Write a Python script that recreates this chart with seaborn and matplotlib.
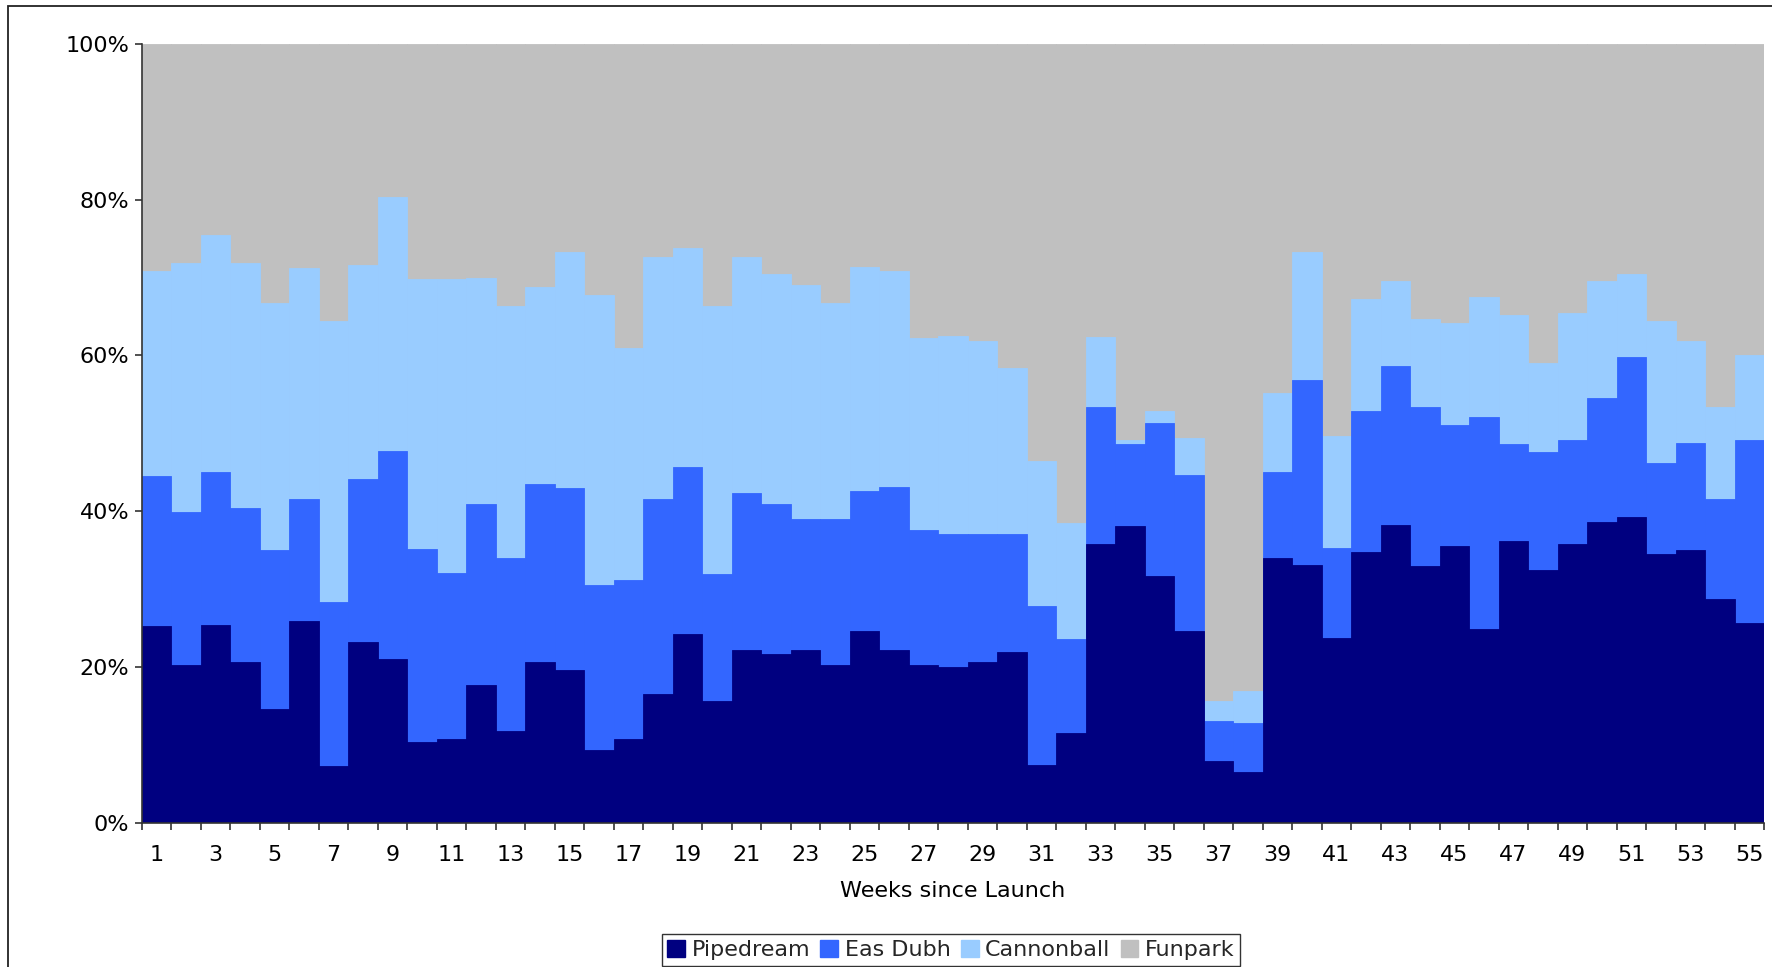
import numpy as np
import pandas as pd
import matplotlib
matplotlib.use("Agg")
import matplotlib.pyplot as plt
from matplotlib.patches import Rectangle, Patch
import seaborn as sns

# Weekly share of rides (%), weeks since launch
weeks = list(range(1, 56))
pipedream = [25.3, 20.3, 25.4, 20.7, 14.6, 25.9, 7.3, 23.2, 21.1, 10.4,
             10.8, 17.7, 11.8, 20.7, 19.7, 9.4, 10.8, 16.6, 24.2, 15.6,
             22.2, 21.7, 22.2, 20.3, 24.7, 22.2, 20.3, 20.0, 20.7, 22.0,
             7.4, 11.5, 35.8, 38.1, 31.7, 24.7, 7.9, 6.5, 34.0, 33.1,
             23.8, 34.8, 38.2, 33.0, 35.6, 24.9, 36.2, 32.5, 35.8, 38.6,
             39.3, 34.5, 35.0, 28.8, 25.7]
eas_dubh = [19.2, 19.6, 19.7, 19.7, 20.4, 15.7, 21.1, 20.9, 26.6, 24.8,
            21.3, 23.3, 22.2, 22.8, 23.3, 21.2, 20.4, 25.0, 21.5, 16.3,
            20.2, 19.3, 16.8, 18.7, 17.9, 20.9, 17.3, 17.1, 16.4, 15.1,
            20.5, 12.1, 17.6, 10.6, 19.6, 20.0, 5.2, 6.3, 11.1, 23.7,
            11.5, 18.1, 20.5, 20.4, 15.5, 27.2, 12.4, 15.1, 13.4, 16.0,
            20.5, 11.7, 13.8, 12.8, 23.5]
cannonball = [26.4, 32.0, 30.4, 31.5, 31.7, 29.6, 36.0, 27.5, 32.7, 34.6,
              37.7, 29.0, 32.3, 25.3, 30.3, 37.2, 29.8, 31.0, 28.1, 34.5,
              30.2, 29.4, 30.0, 27.7, 28.7, 27.8, 24.6, 25.4, 24.7, 21.3,
              18.6, 14.9, 9.0, 0.5, 1.6, 4.7, 2.5, 4.1, 10.1, 16.5,
              14.4, 14.3, 10.8, 11.3, 13.1, 15.4, 16.6, 11.4, 16.3, 14.9,
              10.7, 18.2, 13.0, 11.8, 10.8]
funpark = [29.1, 28.1, 24.5, 28.1, 33.3, 28.8, 35.6, 28.4, 19.6, 30.2,
           30.2, 30.0, 33.7, 31.2, 26.7, 32.2, 39.0, 27.4, 26.2, 33.6,
           27.4, 29.6, 31.0, 33.3, 28.7, 29.1, 37.8, 37.5, 38.2, 41.6,
           53.5, 61.5, 37.6, 50.8, 47.1, 50.6, 84.4, 83.1, 44.8, 26.7,
           50.3, 32.8, 30.5, 35.3, 35.8, 32.5, 34.8, 41.0, 34.5, 30.5,
           29.5, 35.6, 38.2, 46.6, 40.0]

series_names = ["Pipedream", "Eas Dubh", "Cannonball", "Funpark"]
series_colors = ["#000080", "#3366FF", "#99CCFF", "#C0C0C0"]

df = pd.DataFrame({"week": weeks, "Pipedream": pipedream, "Eas Dubh": eas_dubh,
                   "Cannonball": cannonball, "Funpark": funpark})
# normalise each week to 100% and build cumulative stack tops
shares = df[series_names].div(df[series_names].sum(axis=1), axis=0) * 100
tops = shares.cumsum(axis=1)
tops["week"] = df["week"]

sns.set_theme(style="white")
plt.rcParams["font.family"] = ["DejaVu Sans"]

fig = plt.figure(figsize=(17.72, 9.67), dpi=100)
ax = fig.add_axes([0.0801, 0.1489, 0.9155, 0.8058])

# draw the stacks from the top layer down so each lower layer covers the one above
for name, color in reversed(list(zip(series_names, series_colors))):
    sns.barplot(data=tops, x="week", y=name, order=weeks, color=color,
                width=1.0, saturation=1, edgecolor=color, linewidth=0.6,
                ax=ax)

ax.set_xlim(-0.5, len(weeks) - 0.5)
ax.set_ylim(0, 100)
ax.set_yticks([0, 20, 40, 60, 80, 100])
ax.set_yticklabels([f"{v}%" for v in [0, 20, 40, 60, 80, 100]])
ax.set_xticks(range(len(weeks)))
ax.set_xticklabels([str(w) if w % 2 == 1 else "" for w in weeks])
ax.set_xticks(np.arange(-0.5, len(weeks), 1.0), minor=True)

ax.tick_params(axis="x", which="major", length=0, pad=16, labelsize=16,
               colors="black")
ax.tick_params(axis="x", which="minor", length=5, width=1.2, color="#333333",
               bottom=True, direction="out")
ax.tick_params(axis="y", which="major", length=5, width=1.2, color="#333333",
               left=True, direction="out", pad=4, labelsize=16,
               labelcolor="black")

ax.set_xlabel("Weeks since Launch", fontsize=16, labelpad=11, color="black")
ax.set_ylabel("")

for side in ["top", "right"]:
    ax.spines[side].set_visible(False)
for side in ["left", "bottom"]:
    ax.spines[side].set_visible(True)
    ax.spines[side].set_color("#333333")
    ax.spines[side].set_linewidth(1.2)

# outer chart frame
fig.patches.append(Rectangle((0.0044, -0.1), 1.2, 1.0938, transform=fig.transFigure,
                             fill=False, edgecolor="#222222", linewidth=1.3,
                             clip_on=False))

handles = [Patch(facecolor=c, edgecolor=c) for c in series_colors]
leg = fig.legend(handles, series_names, loc="center", ncol=4,
                 bbox_to_anchor=(951 / 1772, 1 - 950 / 967), fontsize=16,
                 frameon=True, fancybox=False, edgecolor="black",
                 handlelength=0.8, handleheight=0.8, handletextpad=0.3,
                 columnspacing=0.45, borderpad=0.25, borderaxespad=0)
leg.get_frame().set_linewidth(1.0)

fig.savefig("out.png", dpi=100)
